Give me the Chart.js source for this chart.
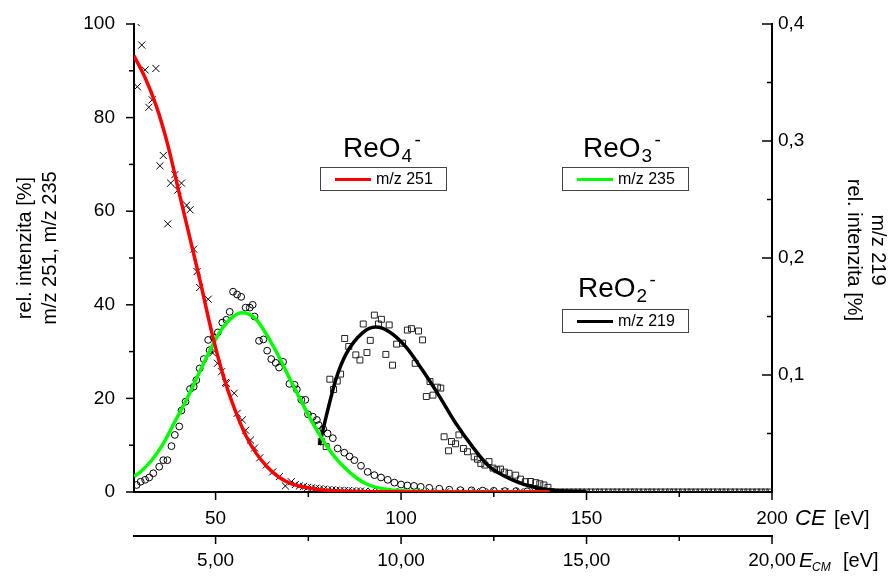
<!DOCTYPE html>
<html>
<head>
<meta charset="utf-8">
<script src="https://cdn.jsdelivr.net/npm/chart.js@4.4.1/dist/chart.umd.min.js"></script>
<style>
  html, body { margin: 0; padding: 0; background: #fff; }
  #wrap { width: 889px; height: 579px; }
</style>
</head>
<body>
<div id="wrap"><canvas id="chart"></canvas></div>
<script>
// axis ticks
const ceTicks = [50, 75, 100, 125, 150, 175, 200];
const ceLabels = ['50', '', '100', '', '150', '', '200'];
const ecmTicks = [5, 7.5, 10, 12.5, 15, 17.5, 20];
const ecmLabels = ['5,00', '', '10,00', '', '15,00', '', '20,00'];
const leftTicks = [0, 10, 20, 30, 40, 50, 60, 70, 80, 90, 100];
const leftLabels = ['0', '', '20', '', '40', '', '60', '', '80', '', '100'];
const rightTicks = [0, 0.05, 0.1, 0.15, 0.2, 0.25, 0.3, 0.35, 0.4];
const rightLabels = ['', '', '0,1', '', '0,2', '', '0,3', '', '0,4'];

// m/z 251 (ReO4-) measured points, left axis
const m251CE = [28.6, 28.9, 30.1, 31.0, 32.0, 32.9, 33.9, 35.0, 35.9, 37.1, 37.9, 39.0, 39.8, 40.8, 42.2, 43.1,
  44.1, 45.0, 45.7, 48.0, 49.2, 50.5, 51.6, 52.7, 52.9, 55.0, 55.8, 57.2, 58.1, 59.4, 60.5, 61.9, 63.7, 65.4,
  67.2, 68.8, 70.4, 71.5, 72.6, 73.7, 74.8, 75.9, 77.0, 78.1, 79.2, 80.3, 81.4, 82.5, 83.6, 84.7, 85.8, 86.9,
  88.0, 89.1, 90.2, 92, 94, 96, 98, 100, 104, 108, 112, 116, 120, 124, 128, 132, 136, 140];
const m251Val = [100.3, 86.6, 95.5, 90.2, 82.2, 83.8, 90.5, 69.7, 71.9, 57.3, 66.0, 67.8, 64.5, 66.0, 61.3, 60.3,
  51.9, 47.1, 43.7, 41.2, 29.7, 27.5, 25.7, 23.4, 23.2, 21.1, 16.8, 15.4, 13.2, 11.1, 9.4, 7.3, 5.8, 4.3,
  3.3, 1.3, 2.2, 1.6, 1.3, 1.2, 1.0, 0.9, 0.8, 0.7, 0.6, 0.5, 0.45, 0.4, 0.35, 0.3, 0.3, 0.25,
  0.2, 0.2, 0.15, 0.1, 0.1, 0.1, 0.05, 0.05, 0.05, 0.05, 0.05, 0.05, 0.05, 0.05, 0.05, 0.05, 0.05, 0.05];

// m/z 235 (ReO3-) measured points, left axis
const m235CE = [28.7, 29.8, 31.0, 32.1, 33.2, 34.8, 35.9, 37.0, 38.1, 39.0, 40.2, 40.8, 41.9, 43.1, 44.1, 44.8,
  45.7, 46.8, 48.0, 48.4, 49.5, 50.6, 51.8, 52.9, 53.8, 54.7, 55.8, 56.9, 58.1, 59.2, 60.0, 60.5, 61.7, 62.9,
  63.9, 65.0, 66.2, 67.1, 68.2, 69.9, 71.3, 71.9, 73.1, 74.2, 74.9, 76.2, 77.3, 77.8, 79.0, 80.2, 81.6, 82.9,
  84.7, 86.1, 87.4, 89.2, 91.0, 92.8, 94.6, 96.4, 98.2, 100.0, 101.7, 103.5, 105.3, 107.6, 110.3, 113, 116,
  119, 122, 125, 128, 131, 134, 137, 140];
const m235Val = [1.5, 2.2, 2.6, 3.1, 4.0, 5.4, 6.8, 6.8, 9.8, 12.2, 14.0, 17.4, 19.3, 22.0, 22.5, 23.9,
  26.4, 28.4, 32.5, 30.3, 33.0, 34.1, 36.2, 36.8, 38.5, 42.8, 42.2, 41.7, 39.4, 39.4, 40.0, 37.5, 32.3, 32.6,
  30.2, 28.4, 27.6, 26.6, 27.8, 23.1, 22.9, 21.9, 19.7, 19.7, 16.6, 16.1, 15.4, 14.3, 13.5, 12.5, 11.5, 9.3,
  8.4, 7.6, 6.8, 5.6, 4.3, 3.6, 3.1, 2.6, 2.0, 1.6, 1.4, 1.3, 1.1, 0.9, 0.7, 0.5, 0.4,
  0.35, 0.3, 0.25, 0.2, 0.2, 0.15, 0.15, 0.1];

// m/z 219 (ReO2-) measured points, right axis
const m219CE = [78.5, 79.8, 80.8, 81.8, 82.8, 83.7, 84.8, 85.9, 87.8, 88.9, 89.8, 90.8, 91.7, 92.8, 93.9, 94.7,
  95.9, 96.8, 97.7, 98.8, 100.4, 101.7, 102.8, 103.8, 104.7, 105.8, 106.8, 107.8, 108.6, 109.8, 110.7, 111.6,
  112.8, 113.6, 114.7, 115.6, 116.8, 117.9, 119.7, 120.6, 121.5, 122.6, 123.7, 124.8, 125.8, 126.8, 127.9,
  129.1, 130.9, 132.2, 133.5, 134.9, 136.3, 137.4, 138.5, 139.6];
const m219Val = [0.0432, 0.0388, 0.0964, 0.0876, 0.0948, 0.1008, 0.1312, 0.1244, 0.1172, 0.1128, 0.1436, 0.1192,
  0.1296, 0.1512, 0.1436, 0.1476, 0.1176, 0.1428, 0.1084, 0.1264, 0.1272, 0.1384, 0.1396, 0.11, 0.1376, 0.13,
  0.0816, 0.0944, 0.0828, 0.0896, 0.0888, 0.0472, 0.0352, 0.0432, 0.0412, 0.0488, 0.0372, 0.0344, 0.03, 0.028,
  0.0244, 0.023, 0.026, 0.0204, 0.019, 0.0196, 0.017, 0.016, 0.0144, 0.011, 0.0088, 0.009, 0.008, 0.007,
  0.006, 0.004];
const m219TailCE = [140.6, 141.8, 143.0, 144.1, 145.3, 146.5, 147.7, 148.8, 150.0, 151.2, 152.4, 153.5, 154.7,
  155.9, 157.1, 158.2, 159.4, 160.6, 161.8, 162.9, 164.1, 165.3, 166.5, 167.6, 168.8, 170.0, 171.2, 172.4,
  173.5, 174.7, 175.9, 177.1, 178.2, 179.4, 180.6, 181.8, 182.9, 184.1, 185.3, 186.5, 187.6, 188.8, 190.0,
  191.2, 192.4, 193.5, 194.7, 195.9, 197.1, 198.2, 199.4];
const m219TailVal = [0, 0, 0, 0, 0, 0, 0, 0, 0, 0, 0, 0, 0, 0, 0, 0, 0, 0, 0, 0, 0, 0, 0, 0, 0, 0,
  0, 0, 0, 0, 0, 0, 0, 0, 0, 0, 0, 0, 0, 0, 0, 0, 0, 0, 0, 0, 0, 0, 0, 0, 0];

// fitted curves
const fit251CE = [28, 31, 34, 37, 40, 43, 46, 49, 52, 55, 58, 61, 64, 67, 70, 74, 78, 85, 95, 110, 140];
const fit251Val = [93.2, 88.5, 82.5, 74.5, 64.5, 54.5, 44.5, 34.0, 25.0, 18.0, 12.3, 8.2, 5.3, 3.2, 1.9, 1.0,
  0.5, 0.15, 0.03, 0, 0];
const fit235CE = [28, 30, 33, 36, 39, 42, 45, 48, 51, 54, 57, 59, 61, 64, 67, 70, 73, 76, 79, 82, 85, 88, 91,
  95, 100, 110, 140];
const fit235Val = [3.3, 4.5, 7.0, 10.5, 15.0, 19.5, 24.5, 29.5, 34.0, 37.0, 38.3, 38.0, 36.8, 33.3, 29.0, 24.2,
  19.5, 15.0, 11.0, 7.6, 5.0, 3.0, 1.6, 0.7, 0.25, 0.05, 0];
const fit219CE = [78, 80, 82.5, 85.2, 89.6, 93.2, 96.8, 101.3, 105.8, 110.3, 114.7, 119.2, 123.7, 130, 137,
  143, 150];
const fit219Val = [0.040, 0.067, 0.097, 0.118, 0.136, 0.141, 0.137, 0.124, 0.104, 0.082, 0.059, 0.039, 0.022,
  0.0104, 0.0032, 0.001, 0.0003];

const FONT = "'Liberation Sans', Arial, sans-serif";
Chart.defaults.font.family = FONT;
Chart.defaults.color = '#000';

const pts = (xs, ys) => xs.map((x, i) => ({ x, y: ys[i] }));
const fixedTicks = values => scale => { scale.ticks = values.map(v => ({ value: v })); };

function fitLine(data, color, axis) {
  return {
    data, yAxisID: axis, showLine: true, borderColor: color, borderWidth: 3.5,
    pointRadius: 0, cubicInterpolationMode: 'monotone', clip: 0
  };
}

// the gap between axis line and labels goes in tickLength (ticks.padding would also pad the chart area)
function axisOpts(extra, labels, gap) {
  return Object.assign({
    type: 'linear',
    grid: { display: false, drawTicks: true, tickLength: gap },
    border: { display: true, color: '#000', width: 2 },
    ticks: {
      autoSkip: false, maxRotation: 0, padding: 0, color: '#000',
      font: { size: 19, family: FONT },
      callback: (v, i) => labels[i]
    }
  }, extra);
}

// tick marks, titles, ion labels and legend boxes
const decor = {
  id: 'decor',
  afterDraw(chart) {
    const ctx = chart.ctx;
    const s = chart.scales;
    ctx.save();
    ctx.strokeStyle = '#000';
    ctx.lineWidth = 1.5;
    const seg = (x1, y1, x2, y2) => { ctx.beginPath(); ctx.moveTo(x1, y1); ctx.lineTo(x2, y2); ctx.stroke(); };

    ceTicks.forEach((v, i) => { const p = s.x.getPixelForValue(v); seg(p, s.x.top, p, s.x.top + (ceLabels[i] ? 8 : 5)); });
    ecmTicks.forEach((v, i) => { const p = s.x2.getPixelForValue(v); seg(p, s.x2.top, p, s.x2.top + (ecmLabels[i] ? 8 : 5)); });
    leftTicks.forEach((v, i) => { const p = s.y.getPixelForValue(v); seg(s.y.right, p, s.y.right - (leftLabels[i] ? 8 : 5), p); });
    rightTicks.forEach((v, i) => { const p = s.y2.getPixelForValue(v); seg(s.y2.left, p, s.y2.left - (rightLabels[i] ? 10 : 5), p); });

    ctx.fillStyle = '#000';
    ctx.textAlign = 'center';
    ctx.textBaseline = 'middle';
    ctx.font = '20px ' + FONT;
    const rotText = (text, x, y, ang) => {
      ctx.save(); ctx.translate(x, y); ctx.rotate(ang); ctx.fillText(text, 0, 0); ctx.restore();
    };
    rotText('rel. intenzita [%]', 25, 248, -Math.PI / 2);
    rotText('m/z 251, m/z 235', 50, 248, -Math.PI / 2);
    rotText('rel. intenzita [%]', 854, 250, Math.PI / 2);
    rotText('m/z 219', 878, 250, Math.PI / 2);

    // unit labels of the two x axes
    ctx.textAlign = 'left';
    ctx.font = 'italic 22px ' + FONT;
    ctx.fillText('CE', 795, 519);
    ctx.font = '20px ' + FONT;
    ctx.fillText('[eV]', 834, 519);
    ctx.font = 'italic 21px ' + FONT;
    ctx.fillText('E', 799, 561);
    ctx.font = 'italic 12px ' + FONT;
    ctx.fillText('CM', 812, 568);
    ctx.font = '20px ' + FONT;
    ctx.fillText('[eV]', 843, 561);

    // ion labels
    const ion = (x, base, digit) => {
      ctx.textBaseline = 'alphabetic';
      ctx.font = '28px ' + FONT;
      ctx.fillText('ReO', x, base);
      const w = ctx.measureText('ReO').width;
      ctx.font = '19px ' + FONT;
      ctx.fillText(digit, x + w + 1, base + 5);
      ctx.fillText('-', x + w + 14, base - 11);
    };
    ion(343, 157, '4');
    ion(583, 157, '3');
    ion(578, 297, '2');

    // legend boxes
    const box = (x, y, color, text) => {
      ctx.strokeStyle = '#444';
      ctx.lineWidth = 1;
      ctx.strokeRect(x + 0.5, y + 0.5, 126, 23);
      ctx.strokeStyle = color;
      ctx.lineWidth = 3;
      seg(x + 15, y + 12.5, x + 51, y + 12.5);
      ctx.fillStyle = '#000';
      ctx.font = '16px ' + FONT;
      ctx.textBaseline = 'middle';
      ctx.fillText(text, x + 56, y + 13);
    };
    box(320, 167, '#ff0000', 'm/z 251');
    box(562, 167, '#00ff00', 'm/z 235');
    box(562, 309, '#000000', 'm/z 219');
    ctx.restore();
  }
};

new Chart(document.getElementById('chart'), {
  type: 'scatter',
  data: {
    datasets: [
      fitLine(pts(fit251CE, fit251Val), '#ff0000', 'y'),
      fitLine(pts(fit235CE, fit235Val), '#00ff00', 'y'),
      fitLine(pts(fit219CE, fit219Val), '#000000', 'y2'),
      {
        data: pts(m251CE, m251Val), yAxisID: 'y', pointStyle: 'crossRot', pointRadius: 5,
        borderColor: '#000', borderWidth: 1, clip: 0
      },
      {
        data: pts(m235CE, m235Val), yAxisID: 'y', pointStyle: 'circle', pointRadius: 3.4,
        borderColor: '#000', backgroundColor: 'rgba(0,0,0,0)', borderWidth: 1, clip: 0
      },
      {
        data: pts(m219CE.concat(m219TailCE), m219Val.concat(m219TailVal)), yAxisID: 'y2', pointStyle: 'rect',
        pointRadius: 4.2, borderColor: '#222', backgroundColor: 'rgba(255,255,255,0)', borderWidth: 1, clip: 0
      }
    ]
  },
  options: {
    responsive: true,
    maintainAspectRatio: false,
    animation: false,
    devicePixelRatio: 1,
    layout: { padding: { top: 24, left: 0, right: 0, bottom: 0 } },
    plugins: { legend: { display: false }, tooltip: { enabled: false } },
    events: [],
    scales: {
      x: axisOpts({ position: 'bottom', min: 28, max: 200, weight: 0,
        afterBuildTicks: fixedTicks(ceTicks), afterFit: sc => { sc.height = 44; } }, ceLabels, 15),
      x2: axisOpts({ position: 'bottom', min: 2.8, max: 20, weight: 1,
        afterBuildTicks: fixedTicks(ecmTicks), afterFit: sc => { sc.height = 43; } }, ecmLabels, 13),
      y: axisOpts({ position: 'left', min: 0, max: 100,
        afterBuildTicks: fixedTicks(leftTicks), afterFit: sc => { sc.width = 134; } }, leftLabels, 19),
      y2: axisOpts({ position: 'right', min: 0, max: 0.4,
        afterBuildTicks: fixedTicks(rightTicks), afterFit: sc => { sc.width = 117; } }, rightLabels, 6)
    }
  },
  plugins: [decor]
});
</script>
</body>
</html>
